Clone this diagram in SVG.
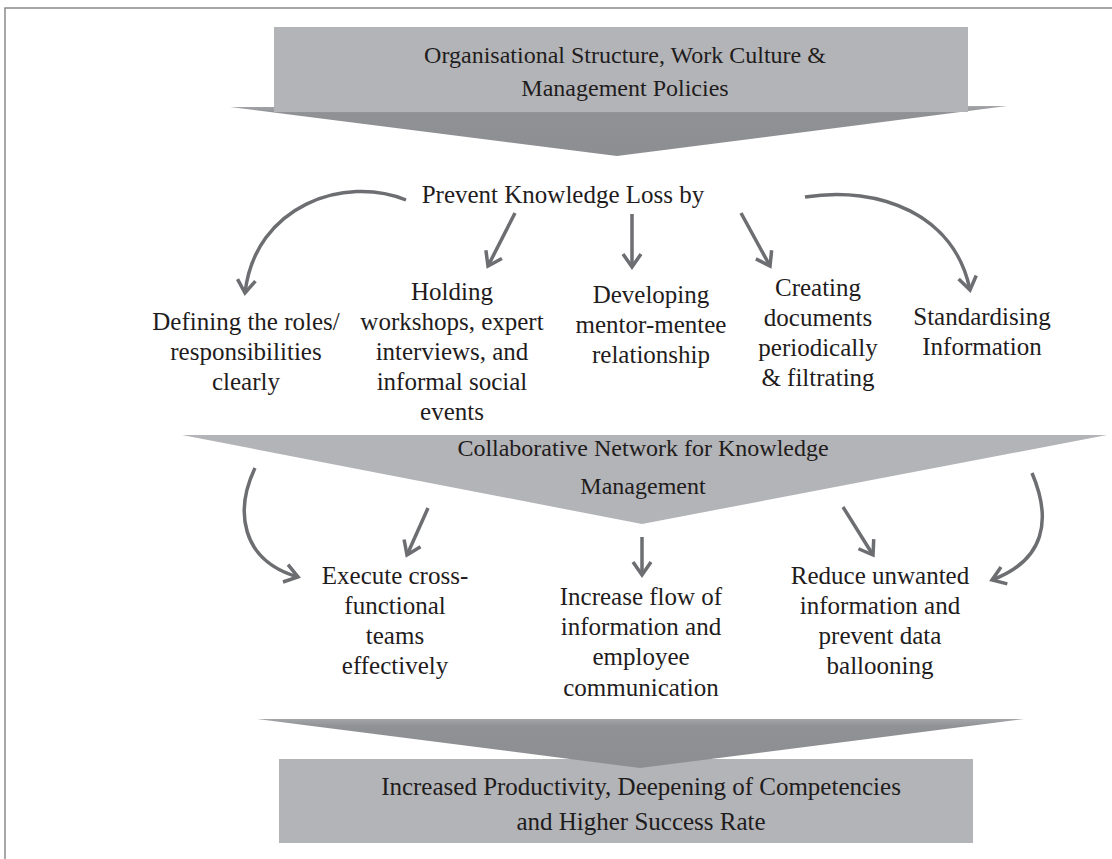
<svg xmlns="http://www.w3.org/2000/svg" width="1112" height="859" viewBox="0 0 1112 859">
  <defs>
    <marker id="chev" markerUnits="userSpaceOnUse" markerWidth="30" markerHeight="30" viewBox="-16 -15 30 30" refX="0" refY="0" orient="auto">
      <path d="M-13,-9 L0,0 L-13,9" fill="none" stroke="#6d6e71" stroke-width="3.5" stroke-linejoin="miter" stroke-linecap="butt"/>
    </marker>
    <linearGradient id="wing" x1="0" y1="0" x2="0" y2="1">
      <stop offset="0" stop-color="#a4a5a8"/>
      <stop offset="0.15" stop-color="#909195"/>
      <stop offset="1" stop-color="#8d8e92"/>
    </linearGradient>
  </defs>
  <style>
    .t { font-family: "Liberation Serif", "Times New Roman", serif; font-size: 25px; fill: #1f1c1d; text-anchor: middle; }
    .b { font-size: 24px; }
    .band { fill: #b3b4b7; }
    .head { fill: url(#wing); }
    .conn { fill: none; stroke: #6d6e71; stroke-width: 3.5; marker-end: url(#chev); }
    .frame { stroke: #8a8a8a; stroke-width: 1.5; fill: none; }
  </style>

  <!-- page frame -->
  <path class="frame" d="M5,859 L5,8 L1112,8"/>

  <!-- top banner -->
  <g id="org-structure">
    <polygon class="head" points="230,107 1007,106 617,156"/>
    <rect class="band" x="274" y="27" width="694" height="85"/>
    <text class="t b" x="625" y="63">Organisational Structure, Work Culture &amp;</text>
    <text class="t b" x="625" y="96">Management Policies</text>
  </g>

  <g id="prevent-loss">
    <text class="t" x="563" y="203">Prevent Knowledge Loss by</text>
  </g>

  <g id="defining-roles">
    <text class="t" x="246" y="330">Defining the roles/</text>
    <text class="t" x="246" y="360">responsibilities</text>
    <text class="t" x="246" y="390">clearly</text>
  </g>

  <g id="holding-workshops">
    <text class="t" x="452" y="300">Holding</text>
    <text class="t" x="452" y="330">workshops, expert</text>
    <text class="t" x="452" y="360">interviews, and</text>
    <text class="t" x="452" y="390">informal social</text>
    <text class="t" x="452" y="420">events</text>
  </g>

  <g id="developing-mentor">
    <text class="t" x="651" y="303">Developing</text>
    <text class="t" x="651" y="333">mentor-mentee</text>
    <text class="t" x="651" y="363">relationship</text>
  </g>

  <g id="creating-documents">
    <text class="t" x="818" y="296">Creating</text>
    <text class="t" x="818" y="326">documents</text>
    <text class="t" x="818" y="356">periodically</text>
    <text class="t" x="818" y="386">&amp; filtrating</text>
  </g>

  <g id="standardising">
    <text class="t" x="982" y="325">Standardising</text>
    <text class="t" x="982" y="355">Information</text>
  </g>

  <!-- middle funnel -->
  <g id="collab-network">
    <polygon class="band" points="182,435 1107,435 642,524"/>
    <text class="t b" x="643" y="456">Collaborative Network for Knowledge</text>
    <text class="t b" x="643" y="494">Management</text>
  </g>

  <g id="execute-teams">
    <text class="t" x="395" y="584">Execute cross-</text>
    <text class="t" x="395" y="614">functional</text>
    <text class="t" x="395" y="644">teams</text>
    <text class="t" x="395" y="674">effectively</text>
  </g>

  <g id="increase-flow">
    <text class="t" x="641" y="605">Increase flow of</text>
    <text class="t" x="641" y="635">information and</text>
    <text class="t" x="641" y="665">employee</text>
    <text class="t" x="641" y="696">communication</text>
  </g>

  <g id="reduce-unwanted">
    <text class="t" x="880" y="584">Reduce unwanted</text>
    <text class="t" x="880" y="614">information and</text>
    <text class="t" x="880" y="644">prevent data</text>
    <text class="t" x="880" y="674">ballooning</text>
  </g>

  <!-- bottom outcome -->
  <g id="outcome">
    <rect class="band" x="279" y="759" width="694" height="84"/>
    <polygon class="head" points="257,719 1024,719 640,768"/>
    <text class="t" x="641" y="795">Increased Productivity, Deepening of Competencies</text>
    <text class="t" x="641" y="830">and Higher Success Rate</text>
  </g>

  <!-- connectors -->
  <g id="connectors">
    <path class="conn" d="M406,200 C345,175 255,205 245,293"/>
    <path class="conn" d="M515,213 L488,266"/>
    <path class="conn" d="M632,214 L632,267"/>
    <path class="conn" d="M741,213 L770,266"/>
    <path class="conn" d="M805,197 C880,185 955,215 970,290"/>
    <path class="conn" d="M255,468 C235,510 240,560 298,577"/>
    <path class="conn" d="M428,508 L407,555"/>
    <path class="conn" d="M642,537 L642,575"/>
    <path class="conn" d="M843,507 L873,555"/>
    <path class="conn" d="M1032,473 C1052,520 1045,560 992,580"/>
  </g>
</svg>
